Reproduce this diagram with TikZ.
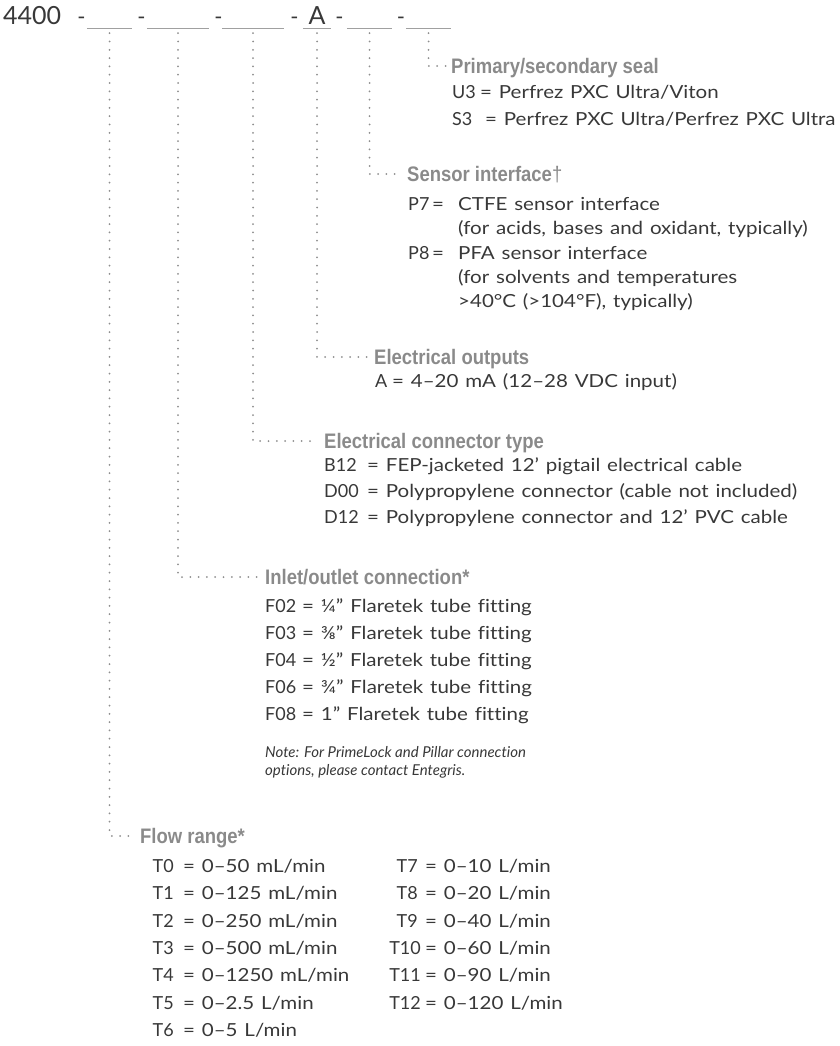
\documentclass[tikz,border=0pt]{standalone}
\usepackage{fontspec}
\setmainfont{Lato}[FakeStretch=1.14, WordSpace=1.3, Ligatures=NoCommon]
\newfontfamily\plainlato{Lato}[Ligatures=NoCommon]
\newfontfamily\hfont{Liberation Sans}[FakeStretch=0.88]
\definecolor{bodyc}{HTML}{383838}
\definecolor{headc}{HTML}{8A8A8A}
\definecolor{dotc}{HTML}{8E8E8E}
\definecolor{ulc}{HTML}{A0A0A0}
\begin{document}
\begin{tikzpicture}[x=1pt,y=-1pt,
  body/.style={font=\fontsize{18}{22}\selectfont, text=bodyc, inner sep=0pt, anchor=base west},
  lab/.style={body, font=\plainlato\fontsize{18}{22}\selectfont},
  labr/.style={lab, anchor=base east},
  note/.style={font=\plainlato\itshape\fontsize{15}{18}\selectfont, text=bodyc, inner sep=0pt, anchor=base west},
  head/.style={font=\hfont\bfseries\fontsize{21}{24}\selectfont, text=headc, inner sep=0pt, anchor=west, text height=15pt, text depth=0pt},
  ttl/.style={font=\plainlato\fontsize{25}{28}\selectfont, text=bodyc, inner sep=0pt, anchor=base west},
  dashc/.style={font=\plainlato\fontsize{22}{26}\selectfont, text=bodyc, inner sep=0pt, anchor=base},
  dotline/.style={draw=dotc, line width=2pt, line cap=round, dash pattern=on 0pt off 8.3pt},
  uline/.style={draw=ulc, line width=1pt},
  blank/.style={inner sep=0pt, minimum width=#1, minimum height=0pt}
]
\useasboundingbox (0,0) rectangle (840,1046);

% ---- title row ----
\node[ttl] (t4400) at (3,24.5) {4400};
\node[dashc] (d1) at (81.5,24.5) {-};
\node[dashc] (d2) at (141.5,24.5) {-};
\node[dashc] (d3) at (218.5,24.5) {-};
\node[dashc] (d4) at (294.5,24.5) {-};
\node[dashc] (d5) at (339.5,24.5) {-};
\node[dashc] (d6) at (401,24.5) {-};
\node[ttl, anchor=base] (tA) at (317,24.5) {A};

\node[blank=45pt] (b1) at (109.5,29) {};
\node[blank=62pt] (b2) at (178,29) {};
\node[blank=62pt] (b3) at (253,29) {};
\node[blank=28pt] (b4) at (317,29) {};
\node[blank=45pt] (b5) at (369.5,29) {};
\node[blank=45pt] (b6) at (428.5,29) {};
\foreach \b in {b1,b2,b3,b4,b5,b6} \draw[uline] (\b.west) -- (\b.east);

% ---- headings ----
\node[head] (h1) at (451,66) {Primary/secondary seal};
\node[head] (h2) at (407,174) {Sensor interface{\mdseries\textdagger}};
\node[head] (h3) at (374,357) {Electrical outputs};
\node[head] (h4) at (324,441) {Electrical connector type};
\node[head] (h5) at (265,577) {Inlet/outlet connection*};
\node[head] (h6) at (140,836) {Flow range*};

% ---- dotted connectors ----
\draw[dotline] ([yshift=-4pt]b6.south) |- ([xshift=-5pt]h1.west);
\draw[dotline] ([yshift=-4pt]b5.south) |- ([xshift=-6pt]h2.west);
\draw[dotline] ([yshift=-4pt]b4.south) |- ([xshift=-5pt]h3.west);
\draw[dotline] ([yshift=-4pt]b3.south) |- ([xshift=-7pt]h4.west);
\draw[dotline] ([yshift=-4pt]b2.south) |- ([xshift=-7pt]h5.west);
\draw[dotline] ([yshift=-4pt]b1.south) |- ([xshift=-7pt]h6.west);

% ---- seal ----
\node[lab]  (s1l) at (452,98.5) {U3};
\node[body] (s1e) at (480,98.5) {= Perfrez PXC Ultra/Viton};
\node[lab]  (s2l) at (452,125) {S3};
\node[body] (s2e) at (485,125) {= Perfrez PXC Ultra/Perfrez PXC Ultra};

% ---- sensor ----
\node[lab]  (p7l) at (408,210.5) {P7};
\node[body] (p7e) at (432,210.5) {=};
\node[body] (p7v) at (458,210.5) {CTFE sensor interface};
\node[body] (p7n) at (458,234.5) {(for acids, bases and oxidant, typically)};
\node[lab]  (p8l) at (408,259.5) {P8};
\node[body] (p8e) at (432,259.5) {=};
\node[body] (p8v) at (458,259.5) {PFA sensor interface};
\node[body] (p8n) at (458,283.5) {(for solvents and temperatures};
\node[body] (p8m) at (458,307.5) {>40°C (>104°F), typically)};

% ---- outputs ----
\node[lab]  (o1l) at (375,387.5) {A};
\node[body] (o1v) at (392,387.5) {= 4–20 mA (12–28 VDC input)};

% ---- connector ----
\node[lab]  (c1l) at (324,471.5) {B12};
\node[body] (c1v) at (367,471.5) {= FEP-jacketed 12’ pigtail electrical cable};
\node[lab]  (c2l) at (324,497.5) {D00};
\node[body] (c2v) at (367,497.5) {= Polypropylene connector (cable not included)};
\node[lab]  (c3l) at (324,523.5) {D12};
\node[body] (c3v) at (367,523.5) {= Polypropylene connector and 12’ PVC cable};

% ---- inlet ----
\node[lab]  (f1l) at (265,612.5) {F02};
\node[body] (f1v) at (302,612.5) {= ¼” Flaretek tube fitting};
\node[lab]  (f2l) at (265,639.5) {F03};
\node[body] (f2v) at (302,639.5) {= ⅜” Flaretek tube fitting};
\node[lab]  (f3l) at (265,666.5) {F04};
\node[body] (f3v) at (302,666.5) {= ½” Flaretek tube fitting};
\node[lab]  (f4l) at (265,693.5) {F06};
\node[body] (f4v) at (302,693.5) {= ¾” Flaretek tube fitting};
\node[lab]  (f5l) at (265,720.5) {F08};
\node[body] (f5v) at (302,720.5) {= 1” Flaretek tube fitting};
\node[note] (n1) at (265,757.5) {Note: For PrimeLock and Pillar connection};
\node[note] (n2) at (265,775) {options, please contact Entegris.};

% ---- flow range ----
\node[labr] (t0l) at (174,872.5) {T0};
\node[body] (t0v) at (183,872.5) {= 0–50 mL/min};
\node[labr] (t1l) at (174,899.8) {T1};
\node[body] (t1v) at (183,899.8) {= 0–125 mL/min};
\node[labr] (t2l) at (174,927.1) {T2};
\node[body] (t2v) at (183,927.1) {= 0–250 mL/min};
\node[labr] (t3l) at (174,954.5) {T3};
\node[body] (t3v) at (183,954.5) {= 0–500 mL/min};
\node[labr] (t4l) at (174,981.8) {T4};
\node[body] (t4v) at (183,981.8) {= 0–1250 mL/min};
\node[labr] (t5l) at (174,1009.1) {T5};
\node[body] (t5v) at (183,1009.1) {= 0–2.5 L/min};
\node[labr] (t6l) at (174,1036.5) {T6};
\node[body] (t6v) at (183,1036.5) {= 0–5 L/min};

\node[labr] (t7l) at (418,872.5) {T7};
\node[body] (t7v) at (425,872.5) {= 0–10 L/min};
\node[labr] (t8l) at (418,899.8) {T8};
\node[body] (t8v) at (425,899.8) {= 0–20 L/min};
\node[labr] (t9l) at (418,927.1) {T9};
\node[body] (t9v) at (425,927.1) {= 0–40 L/min};
\node[labr] (t10l) at (421,954.5) {T10};
\node[body] (t10v) at (425,954.5) {= 0–60 L/min};
\node[labr] (t11l) at (421,981.8) {T11};
\node[body] (t11v) at (425,981.8) {= 0–90 L/min};
\node[labr] (t12l) at (421,1009.1) {T12};
\node[body] (t12v) at (425,1009.1) {= 0–120 L/min};
\end{tikzpicture}
\end{document}
